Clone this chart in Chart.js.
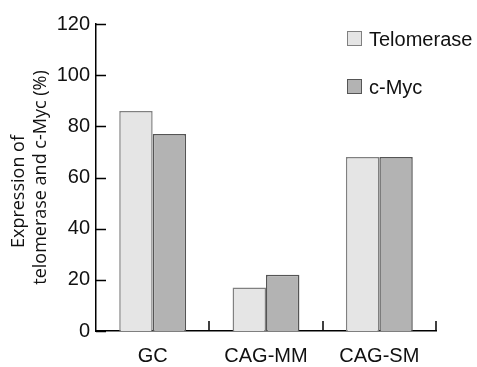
<!DOCTYPE html>
<html>
<head>
<meta charset="utf-8">
<script src="https://cdn.jsdelivr.net/npm/chart.js@4/dist/chart.umd.min.js"></script>
<style>
  html, body { margin: 0; padding: 0; background: #fff; }
  #wrap { width: 477px; height: 367px; }
</style>
</head>
<body>
<div id="wrap"><canvas id="c" width="477" height="367"></canvas></div>
<script>
const categories = ['GC', 'CAG-MM', 'CAG-SM'];
const seriesNames = ['Telomerase', 'c-Myc'];
const telomerase = [86, 17, 68];
const cMyc = [77, 22, 68];
const yTicks = [0, 20, 40, 60, 80, 100, 120];
const yTitle = ['Expression of      ', 'telomerase and c-Myc (%)'];

const fills = ['#e5e5e5', '#b3b3b3'];
const borders = ['#808080', '#555555'];

const tickMarks = {
  id: 'tickMarks',
  afterDraw(chart) {
    const ctx = chart.ctx;
    const x = chart.scales.x, y = chart.scales.y;
    ctx.save();
    ctx.strokeStyle = '#000';
    ctx.lineWidth = 1.5;
    ctx.beginPath();
    yTicks.forEach(v => {
      const py = Math.round(y.getPixelForValue(v)) + 0.5;
      ctx.moveTo(x.left, py);
      ctx.lineTo(x.left + 10, py);
    });
    const half = (x.getPixelForValue(1) - x.getPixelForValue(0)) / 2;
    for (let i = 0; i < categories.length; i++) {
      const px = Math.round(x.getPixelForValue(i) + half);
      ctx.moveTo(px, y.bottom);
      ctx.lineTo(px, y.bottom - 10);
    }
    ctx.stroke();
    ctx.restore();
  }
};

const insideLegend = {
  id: 'insideLegend',
  afterDraw(chart) {
    const ctx = chart.ctx;
    const area = chart.chartArea;
    ctx.save();
    ctx.font = '20px "Liberation Sans", Arial, sans-serif';
    ctx.textBaseline = 'middle';
    ctx.textAlign = 'left';
    chart.data.datasets.forEach((ds, i) => {
      const bx = area.left + 251;
      const by = area.top + 7 + i * 48;
      ctx.fillStyle = ds.backgroundColor;
      ctx.fillRect(bx, by, 15, 15);
      ctx.strokeStyle = ds.borderColor;
      ctx.lineWidth = 1;
      ctx.strokeRect(bx + 0.5, by + 0.5, 14, 14);
      ctx.fillStyle = '#111';
      ctx.fillText(ds.label, bx + 22, by + 9);
    });
    ctx.restore();
  }
};

new Chart(document.getElementById('c'), {
  type: 'bar',
  data: {
    labels: categories,
    datasets: [
      { label: seriesNames[0], data: telomerase, backgroundColor: fills[0], borderColor: borders[0], borderWidth: 1.5 },
      { label: seriesNames[1], data: cMyc, backgroundColor: fills[1], borderColor: borders[1], borderWidth: 1.5 }
    ]
  },
  options: {
    responsive: false,
    animation: false,
    devicePixelRatio: 1,
    layout: { padding: { top: 24, right: 41, left: 0, bottom: 0 } },
    datasets: { bar: { categoryPercentage: 0.59, barPercentage: 1.0 } },
    plugins: { legend: { display: false }, tooltip: { enabled: false } },
    scales: {
      x: {
        afterFit(s) { s.height = 36; },
        grid: { display: false, drawTicks: false },
        border: { display: true, color: '#000', width: 1.5 },
        ticks: { color: '#111', padding: 13, font: { family: '"Liberation Sans", Arial, sans-serif', size: 20 } }
      },
      y: {
        min: 0, max: 120,
        afterFit(s) { s.width = 96; },
        afterBuildTicks(s) { s.ticks = yTicks.map(v => ({ value: v })); },
        grid: { display: false, drawTicks: false },
        border: { display: true, color: '#000', width: 1.5 },
        ticks: { color: '#111', padding: 6, font: { family: '"Liberation Sans", Arial, sans-serif', size: 20 } },
        title: {
          display: true,
          text: yTitle,
          color: '#111',
          padding: { top: 8, bottom: 0 },
          font: { family: '"Open Sans", sans-serif', size: 18, lineHeight: 1.2 }
        }
      }
    }
  },
  plugins: [tickMarks, insideLegend]
});
</script>
</body>
</html>
